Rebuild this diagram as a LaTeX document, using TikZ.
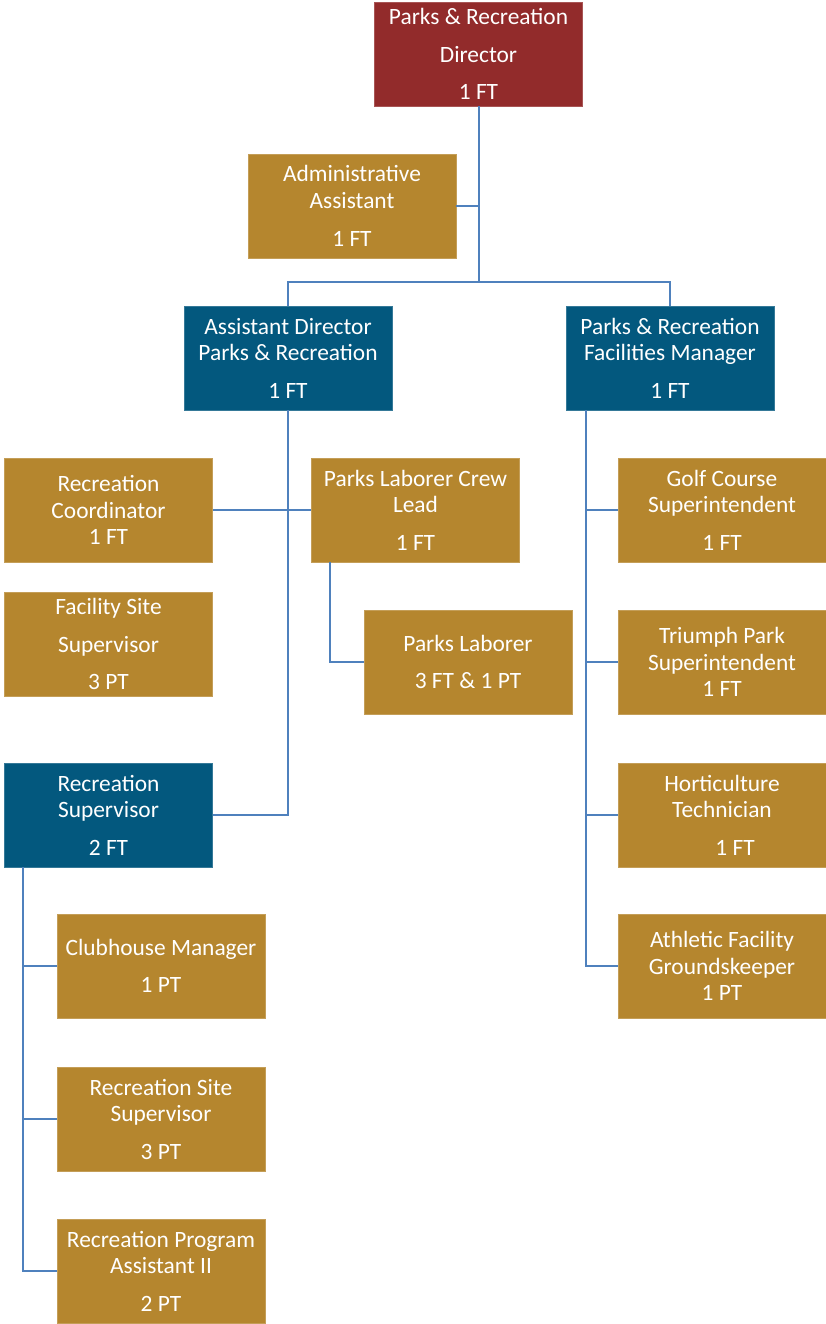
\documentclass[tikz,border=0pt]{standalone}
\usepackage{fontspec}
\setmainfont{Carlito}
\definecolor{headred}{HTML}{922B2B}
\definecolor{leadblue}{HTML}{03587E}
\definecolor{staffgold}{HTML}{B5862E}
\definecolor{linkblue}{HTML}{4F81BD}
\tikzstyle{post}=[rectangle,minimum width=208pt,minimum height=104pt,inner sep=0pt,line width=0.6pt,text=white,align=center,font=\fontsize{23.4}{26.5}\selectfont]
\tikzstyle{head}=[post,fill=headred,draw=headred!80!white]
\tikzstyle{lead}=[post,fill=leadblue,draw=leadblue!80!white]
\tikzstyle{staff}=[post,fill=staffgold,draw=staffgold!80!white]
\tikzstyle{link}=[draw,linkblue,line width=2pt]

\begin{document}
\begin{tikzpicture}[x=1pt,y=-1pt]
    \useasboundingbox (0,0) rectangle (826,1324);
    % First the director and the two managers
    \node[head] (director) at (478.5,54) {Parks \& Recreation\\[11pt]Director\\[11pt]1 FT};
    \node[staff] (admin) at (352,206) {Administrative\\Assistant\\[12pt]1 FT};
    \node[lead] (asstdir) at (288,358) {Assistant Director\\Parks \& Recreation\\[11pt]1 FT};
    \node[lead] (facmgr) at (670,358) {Parks \& Recreation\\Facilities Manager\\[11pt]1 FT};
    % Parks and recreation side
    \node[staff] (reccoord) at (108.5,510) {Recreation\\Coordinator\\1 FT};
    \node[staff] (crewlead) at (415.5,510) {Parks Laborer Crew\\Lead\\[11pt]1 FT};
    \node[staff] (facsite) at (108.5,644) {Facility Site\\[11pt]Supervisor\\[11pt]3 PT};
    \node[staff] (laborer) at (468,662) {Parks Laborer\\[11pt]3 FT \& 1 PT};
    \node[lead] (recsup) at (108.5,815) {Recreation\\Supervisor\\[11pt]2 FT};
    \node[staff] (clubhouse) at (161,966) {Clubhouse Manager\\[11pt]1 PT};
    \node[staff] (recsite) at (161,1119) {Recreation Site\\Supervisor\\[11pt]3 PT};
    \node[staff] (progasst) at (161,1271) {Recreation Program\\Assistant II\\[11pt]2 PT};
    % Facilities side
    \node[staff] (golf) at (722,510) {Golf Course\\Superintendent\\[11pt]1 FT};
    \node[staff] (triumph) at (722,662) {Triumph Park\\Superintendent\\1 FT};
    \node[staff] (horti) at (722,815) {Horticulture\\Technician\\[11pt]\hspace*{26pt}1 FT};
    \node[staff] (athletic) at (722,966) {Athletic Facility\\Groundskeeper\\1 PT};
    % Then the reporting lines
    \path (director.south) ++(0,176) coordinate (split);
    \path[link] (director) -- (split);
    \path[link] (admin) -- (admin -| director);
    \path[link] (split) -| (asstdir);
    \path[link] (split) -| (facmgr);
    \path[link] (asstdir) |- (recsup);
    \path[link] (reccoord) -- (crewlead);
    \path (crewlead.south west) ++(19,0) coordinate (crewtrunk);
    \path[link] (crewtrunk) |- (laborer);
    \path (facmgr.south west) ++(20,0) coordinate (factrunk);
    \path[link] (factrunk) |- (athletic);
    \foreach \post in {golf,triumph,horti}
        \path[link] (\post) -- (\post -| factrunk);
    \path (recsup.south west) ++(19,0) coordinate (rectrunk);
    \path[link] (rectrunk) |- (progasst);
    \foreach \post in {clubhouse,recsite}
        \path[link] (\post) -- (\post -| rectrunk);
\end{tikzpicture}
\end{document}
